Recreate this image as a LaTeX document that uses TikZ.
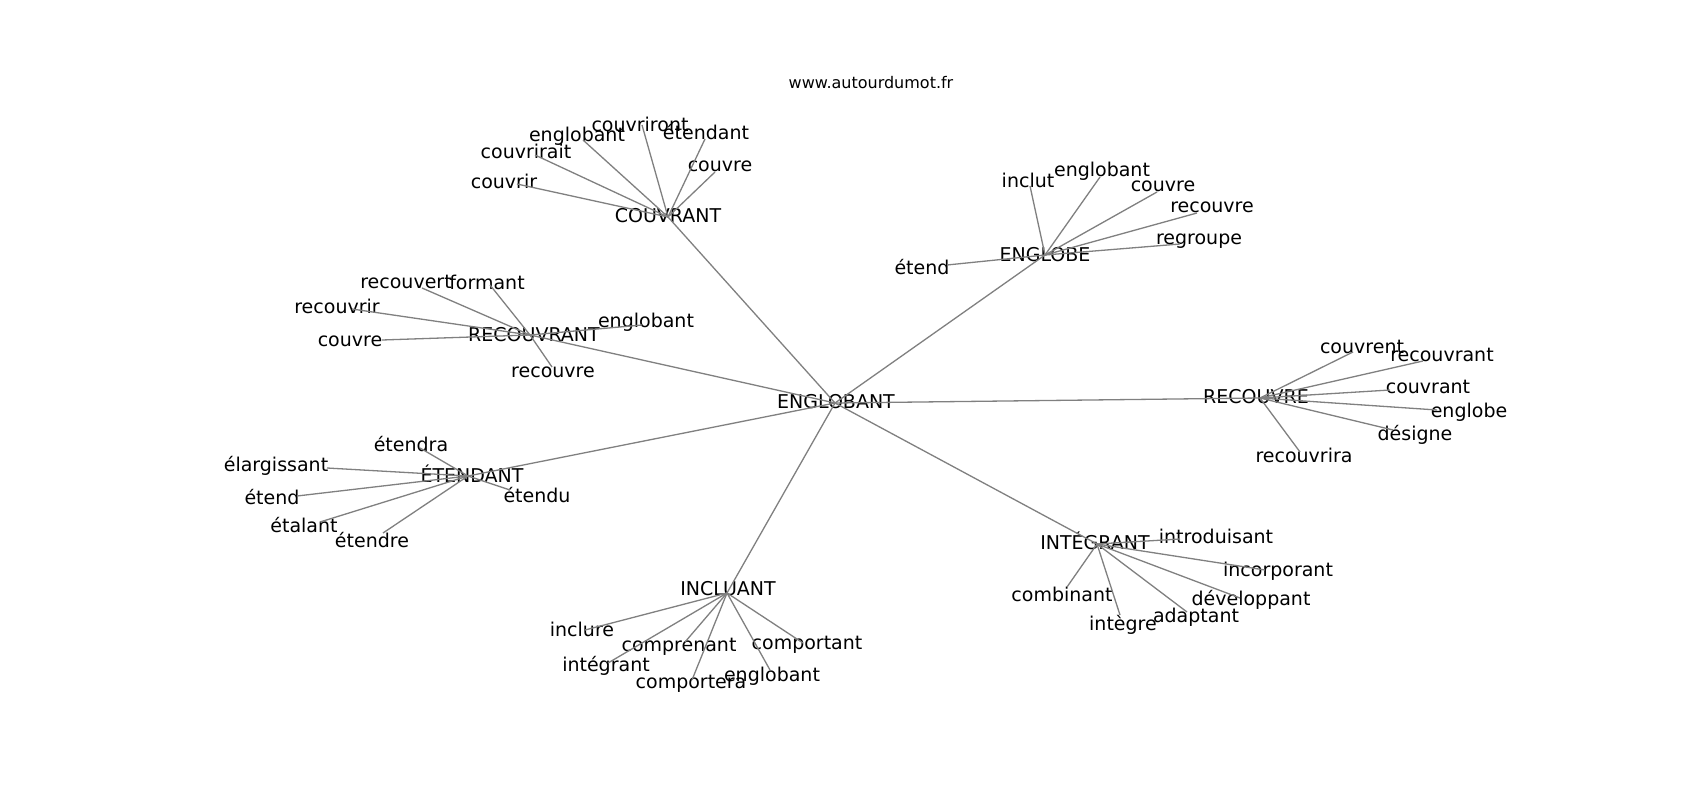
\documentclass[tikz,border=0pt]{standalone}
\usepackage{fontspec}
\setmainfont{DejaVu Sans}
\tikzset{
  lbl/.style={font=\fontsize{19}{22}\selectfont, inner sep=0pt, text=black},
  ttl/.style={font=\fontsize{16}{19}\selectfont, inner sep=0pt, text=black},
  edge/.style={draw=black!50, line width=1.3pt}
}
\begin{document}
\begin{tikzpicture}[x=1pt,y=-1pt]
\useasboundingbox[fill=white] (0,0) rectangle (1700,800);
\node[ttl] (title) at (871,83) {www.autourdumot.fr};
% hubs
\node[lbl] (c) at (836,402) {ENGLOBANT};
\node[lbl] (cv) at (668,216) {COUVRANT};
\node[lbl] (eg) at (1045,255) {ENGLOBE};
\node[lbl] (rv) at (534,335) {RECOUVRANT};
\node[lbl] (et) at (472,474) {ÉTENDANT};
\node[lbl] (in) at (728,589) {INCLUANT};
\node[lbl] (ig) at (1095,541) {INTÉGRANT};
\node[lbl] (rc) at (1256,397) {RECOUVRE};
% COUVRANT leaves
\node[lbl] (cv1) at (504,181) {couvrir};
\node[lbl] (cv2) at (526,151) {couvrirait};
\node[lbl] (cv3) at (577,136) {englobant};
\node[lbl] (cv4) at (640,124) {couvriront};
\node[lbl] (cv5) at (706,132) {étendant};
\node[lbl] (cv6) at (720,166) {couvre};
\coordinate (cv1e) at (517,184);
\coordinate (cv2e) at (535,155);
\coordinate (cv3e) at (583,140);
\coordinate (cv4e) at (642,125);
\coordinate (cv5e) at (705,139);
\coordinate (cv6e) at (715,172);
% ENGLOBE leaves
\node[lbl] (eg1) at (1028,180) {inclut};
\node[lbl] (eg2) at (1102,171) {englobant};
\node[lbl] (eg3) at (1163,186) {couvre};
\node[lbl] (eg4) at (1212,207) {recouvre};
\node[lbl] (eg5) at (1199,241) {regroupe};
\node[lbl] (eg6) at (922,267) {étend};
\coordinate (eg1e) at (1030,186);
\coordinate (eg2e) at (1100,177);
\coordinate (eg3e) at (1157,192);
\coordinate (eg4e) at (1197,213);
\coordinate (eg5e) at (1180,244);
\coordinate (eg6e) at (947,265);
% RECOUVRANT leaves
\node[lbl] (rv1) at (406,282) {recouvert};
\node[lbl] (rv2) at (487,282) {formant};
\node[lbl] (rv3) at (337,306) {recouvrir};
\node[lbl] (rv4) at (350,341) {couvre};
\node[lbl] (rv5) at (646,322) {englobant};
\node[lbl] (rv6) at (553,372) {recouvre};
\coordinate (rv1e) at (422,288);
\coordinate (rv2e) at (490,285);
\coordinate (rv3e) at (352,309);
\coordinate (rv4e) at (382,340);
\coordinate (rv5e) at (642,325);
\coordinate (rv6e) at (552,367);
% ÉTENDANT leaves
\node[lbl] (et1) at (411,444) {étendra};
\node[lbl] (et2) at (276,466) {élargissant};
\node[lbl] (et3) at (272,497) {étend};
\node[lbl] (et4) at (304,525) {étalant};
\node[lbl] (et5) at (372,540) {étendre};
\node[lbl] (et6) at (537,495) {étendu};
\coordinate (et1e) at (420,448);
\coordinate (et2e) at (327,468);
\coordinate (et3e) at (297,496);
\coordinate (et4e) at (320,522);
\coordinate (et5e) at (383,533);
\coordinate (et6e) at (510,490);
% INCLUANT leaves
\node[lbl] (in1) at (582,629) {inclure};
\node[lbl] (in2) at (679,647) {comprenant};
\node[lbl] (in3) at (606,666) {intégrant};
\node[lbl] (in4) at (691,684) {comportera};
\node[lbl] (in5) at (772,676) {englobant};
\node[lbl] (in6) at (807,645) {comportant};
\coordinate (in1e) at (585,630);
\coordinate (in2e) at (685,642);
\coordinate (in3e) at (608,663);
\coordinate (in4e) at (692,680);
\coordinate (in5e) at (770,670);
\coordinate (in6e) at (803,643);
% INTÉGRANT leaves
\node[lbl] (ig1) at (1216,536) {introduisant};
\node[lbl] (ig2) at (1278,571) {incorporant};
\node[lbl] (ig3) at (1062,594) {combinant};
\node[lbl] (ig4) at (1123,625) {intègre};
\node[lbl] (ig5) at (1196,617) {adaptant};
\node[lbl] (ig6) at (1251,600) {développant};
\coordinate (ig1e) at (1180,539);
\coordinate (ig2e) at (1265,570);
\coordinate (ig3e) at (1067,587);
\coordinate (ig4e) at (1120,615);
\coordinate (ig5e) at (1187,612);
\coordinate (ig6e) at (1240,598);
% RECOUVRE leaves
\node[lbl] (rc1) at (1362,347) {couvrent};
\node[lbl] (rc2) at (1442,355) {recouvrant};
\node[lbl] (rc3) at (1428,387) {couvrant};
\node[lbl] (rc4) at (1469,412) {englobe};
\node[lbl] (rc5) at (1415,435) {désigne};
\node[lbl] (rc6) at (1304,455) {recouvrira};
\coordinate (rc1e) at (1353,352);
\coordinate (rc2e) at (1423,361);
\coordinate (rc3e) at (1390,390);
\coordinate (rc4e) at (1437,410);
\coordinate (rc5e) at (1393,430);
\coordinate (rc6e) at (1300,452);
% hub convergence points
\coordinate (cC) at (835,403);
\coordinate (cvC) at (668,217);
\coordinate (egC) at (1045,255);
\coordinate (rvC) at (530,335);
\coordinate (etC) at (468,476);
\coordinate (inC) at (727,593);
\coordinate (igC) at (1097,544);
\coordinate (rcC) at (1260,398);
% edges
\foreach \h in {cv,eg,rv,et,in,ig,rc}{
  \draw[edge] (cC) -- (\h C);
  \foreach \i in {1,...,6}{
    \draw[edge] (\h C) -- (\h\i e);
  }
}
\end{tikzpicture}
\end{document}
